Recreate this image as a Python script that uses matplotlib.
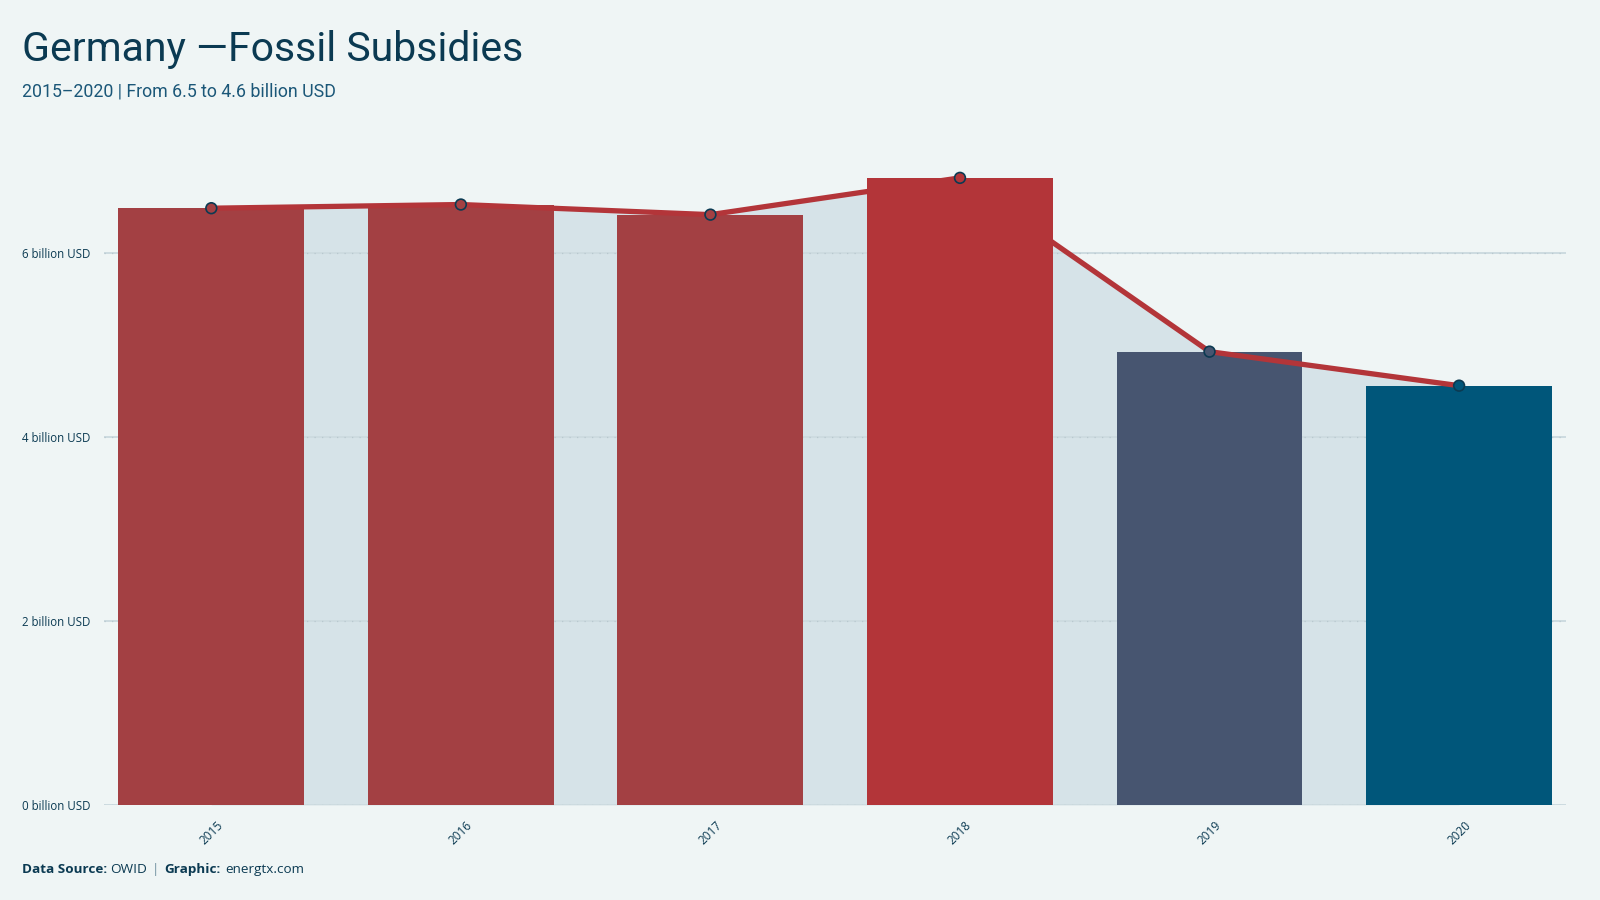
import matplotlib.pyplot as plt
import numpy as np

# data
years = ['2015', '2016', '2017', '2018', '2019', '2020']
subsidies = [6.49, 6.53, 6.42, 6.82, 4.93, 4.56]   # billion USD
bar_colors = ['#a34043', '#a34043', '#a34043', '#b33539', '#475570', '#00567a']
yticks = [0, 2, 4, 6]

BG = '#eff5f5'
DARK = '#0b3a52'
TITLE_FONT = ['Roboto', 'DejaVu Sans']
BODY_FONT = ['Open Sans', 'DejaVu Sans']

fig = plt.figure(figsize=(16, 9), dpi=100, facecolor=BG)
ax = fig.add_axes([0.065, 0.1056, 0.914, 0.7356])
ax.set_facecolor(BG)

x = np.arange(len(years))
ax.fill_between(x, subsidies, 0, color='#d6e3e8', linewidth=0, zorder=1)
for yv in yticks:
    ax.axhline(yv, color='#cddbe0', linewidth=1.4, zorder=1.5)
    ax.axhline(yv, color='#b8c8cf', linewidth=0.9, linestyle=(0, (1, 5)), zorder=1.6)
ax.bar(x, subsidies, width=0.745, color=bar_colors, zorder=2)
ax.plot(x, subsidies, color='#b33539', linewidth=3.8, zorder=3, solid_capstyle='round')
ax.scatter(x, subsidies, s=60, c=bar_colors, edgecolors=DARK, linewidths=1.2, zorder=4)

ax.set_xlim(-0.43, 5.43)
ax.set_ylim(0, 7.2)
ax.set_xticks(x)
ax.set_xticklabels(years, rotation=45, fontsize=8.5, color=DARK, family=BODY_FONT)
ax.set_yticks(yticks)
ax.set_yticklabels([f'{v} billion USD' for v in yticks], fontsize=8.3, color=DARK,
                   family=BODY_FONT)
ax.tick_params(length=0, pad=10)
for s in ax.spines.values():
    s.set_visible(False)

fig.text(0.0135, 0.945, 'Germany \u2014Fossil Subsidies', fontsize=29.5, color=DARK,
         family=TITLE_FONT, va='center', ha='left')
fig.text(0.0135, 0.898, '2015\u20132020 | From 6.5 to 4.6 billion USD', fontsize=12.8,
         color='#1b5778', family=TITLE_FONT, va='center', ha='left')

# footer
t = fig.text(0.0135, 0.034, 'Data Source:', fontsize=9.7, color=DARK, weight='bold',
             family=BODY_FONT, va='center')
fig.canvas.draw()
r = fig.canvas.get_renderer()
xpos = t.get_window_extent(r).x1 / fig.bbox.width + 0.002
for txt, w, c in [('OWID', 'normal', DARK), ('|', 'normal', '#6a8c9c'),
                  ('Graphic:', 'bold', DARK), ('energtx.com', 'normal', DARK)]:
    tt = fig.text(xpos, 0.034, txt, fontsize=9.7, color=c, weight=w,
                  family=BODY_FONT, va='center')
    xpos = tt.get_window_extent(r).x1 / fig.bbox.width + 0.003

fig.savefig('out.png', dpi=100, facecolor=BG)
